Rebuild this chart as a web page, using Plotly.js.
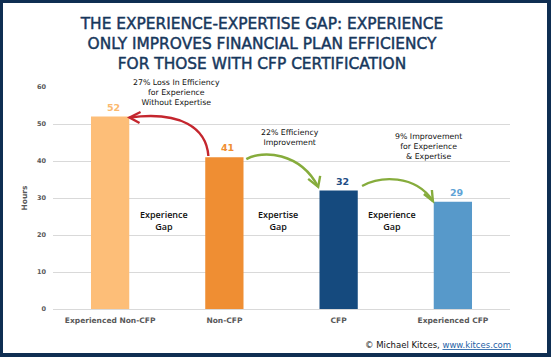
<!DOCTYPE html>
<html>
<head>
<meta charset="utf-8">
<script src="https://cdn.plot.ly/plotly-3.0.1.min.js"></script>
<style>
  html, body { margin: 0; padding: 0; background: #0f2e52; width: 551px; height: 357px; overflow: hidden; }
  #chart { position: absolute; left: 3px; top: 3px; width: 544px; height: 350px; background: #fff; }
  #chart .gtitle { stroke: #17375c; stroke-width: 0.45px; }
</style>
</head>
<body>
<div id="chart"></div>
<script>
// ---- data ----
const categories = ["Experienced Non-CFP", "Non-CFP", "CFP", "Experienced CFP"];
const hours = [52, 41, 32, 29];
const barColors = ["#FDBE78", "#EF8E33", "#154A7E", "#5799CA"];
const labelColors = ["#FBB96E", "#EF8E33", "#1F4E86", "#5FA3D6"];
const yTicks = [0, 10, 20, 30, 40, 50, 60];
const gapLabels = ["Experience<br>Gap", "Expertise<br>Gap", "Experience<br>Gap"];
const arrowNotes = [
  "27% Loss In Efficiency<br>for Experience<br>Without Expertise",
  "22% Efficiency<br>Improvement",
  "9% Improvement<br>for Experience<br>& Expertise"
];
const titleText = "THE EXPERIENCE-EXPERTISE GAP: EXPERIENCE<br>ONLY IMPROVES FINANCIAL PLAN EFFICIENCY<br>FOR THOSE WITH CFP CERTIFICATION";

const idx = categories.map((_, i) => i);

const trace = {
  type: "bar",
  x: idx,
  y: hours,
  width: 0.335,
  marker: { color: barColors },
  hoverinfo: "none"
};

const annotations = [];
// value labels
hours.forEach((h, i) => {
  annotations.push({
    x: i, y: h, xref: "x", yref: "y",
    text: "<b>" + h + "</b>", showarrow: false,
    xshift: 3.5, yshift: 9.5, yanchor: "middle",
    font: { family: "DejaVu Sans", size: 9.5, color: labelColors[i] }
  });
});
// gap labels
gapLabels.forEach((t, i) => {
  annotations.push({
    x: i + 0.47, y: 23.9, xref: "x", yref: "y",
    text: t, showarrow: false, yanchor: "middle",
    font: { family: "Open Sans", size: 9, color: "#111", weight: 600 }
  });
});
// arrow notes
const notePos = [[0.58, 58.4], [1.576, 46.35], [2.79, 44.05]];
arrowNotes.forEach((t, i) => {
  annotations.push({
    x: notePos[i][0], y: notePos[i][1], xref: "x", yref: "y",
    text: t, showarrow: false,
    font: { family: "DejaVu Sans", size: 7.8, color: "#111" }
  });
});
// copyright
annotations.push({
  x: 1.0055, y: -0.16, xref: "paper", yref: "paper",
  xanchor: "right", yanchor: "middle", showarrow: false,
  text: "© Michael Kitces, <span style=\"fill:#1f5fa6;text-decoration:underline\">www.kitces.com</span>",
  font: { family: "DejaVu Sans", size: 8.5, color: "#111" }
});

const red = "#C4262E";
const green = "#86AC3C";
function curve(p0, c1, c2, p1, color) {
  return {
    type: "path", xref: "x", yref: "y",
    path: `M ${p0[0]},${p0[1]} C ${c1[0]},${c1[1]} ${c2[0]},${c2[1]} ${p1[0]},${p1[1]}`,
    line: { color: color, width: 2.4 }, fillcolor: "rgba(0,0,0,0)"
  };
}
function head(tip, path, color) {
  return {
    type: "path", xref: "x", yref: "y",
    xsizemode: "pixel", ysizemode: "pixel",
    xanchor: tip[0], yanchor: tip[1],
    path: path,
    line: { color: color, width: 2.4 }, fillcolor: "rgba(0,0,0,0)"
  };
}

const shapes = [
  curve([0.86, 41.35], [0.843, 48.9], [0.62, 53.6], [0.17, 51.76], red),
  head([0.17, 51.76], "M 11,5.5 L 0,0 L 10,-5.5", red),
  curve([1.192, 40.5], [1.332, 43.0], [1.664, 42.4], [1.821, 33.0], green),
  head([1.821, 33.0], "M -10,8 L 0,0 L 2,11", green),
  curve([2.205, 33.24], [2.362, 35.9], [2.668, 36.5], [2.825, 29.19], green),
  head([2.825, 29.19], "M -9,7 L 0,0 L -1,11", green)
];

const layout = {
  width: 544, height: 350,
  margin: { l: 49.5, r: 36.5, t: 84, b: 44 },
  paper_bgcolor: "#ffffff", plot_bgcolor: "#ffffff",
  showlegend: false,
  title: {
    text: titleText,
    xref: "container", yref: "container",
    x: 0.476, xanchor: "center",
    y: 1 - 26 / 350, yanchor: "top",
    font: { family: "DejaVu Sans", size: 15.4, color: "#17375c" }
  },
  xaxis: {
    range: [-0.5, 3.5],
    tickvals: idx, ticktext: categories,
    showgrid: false, zeroline: false, showline: false, ticks: "",
    ticklabelstandoff: 5,
    tickfont: { family: "DejaVu Sans", size: 7.5, color: "#595959", weight: "bold" },
    fixedrange: true
  },
  yaxis: {
    range: [0, 60],
    tickvals: yTicks,
    showgrid: true, gridcolor: "#D9D9D9", gridwidth: 1,
    zeroline: true, zerolinecolor: "#D9D9D9", zerolinewidth: 1,
    showline: false, ticks: "",
    ticklabelstandoff: 6,
    tickfont: { family: "DejaVu Sans", size: 6.5, color: "#595959", weight: "bold" },
    title: { text: "Hours", standoff: 8, font: { family: "DejaVu Sans", size: 7.5, color: "#595959", weight: "bold" } },
    fixedrange: true
  },
  annotations: annotations,
  shapes: shapes
};

Plotly.newPlot("chart", [trace], layout, { displayModeBar: false, staticPlot: true });
</script>
</body>
</html>
